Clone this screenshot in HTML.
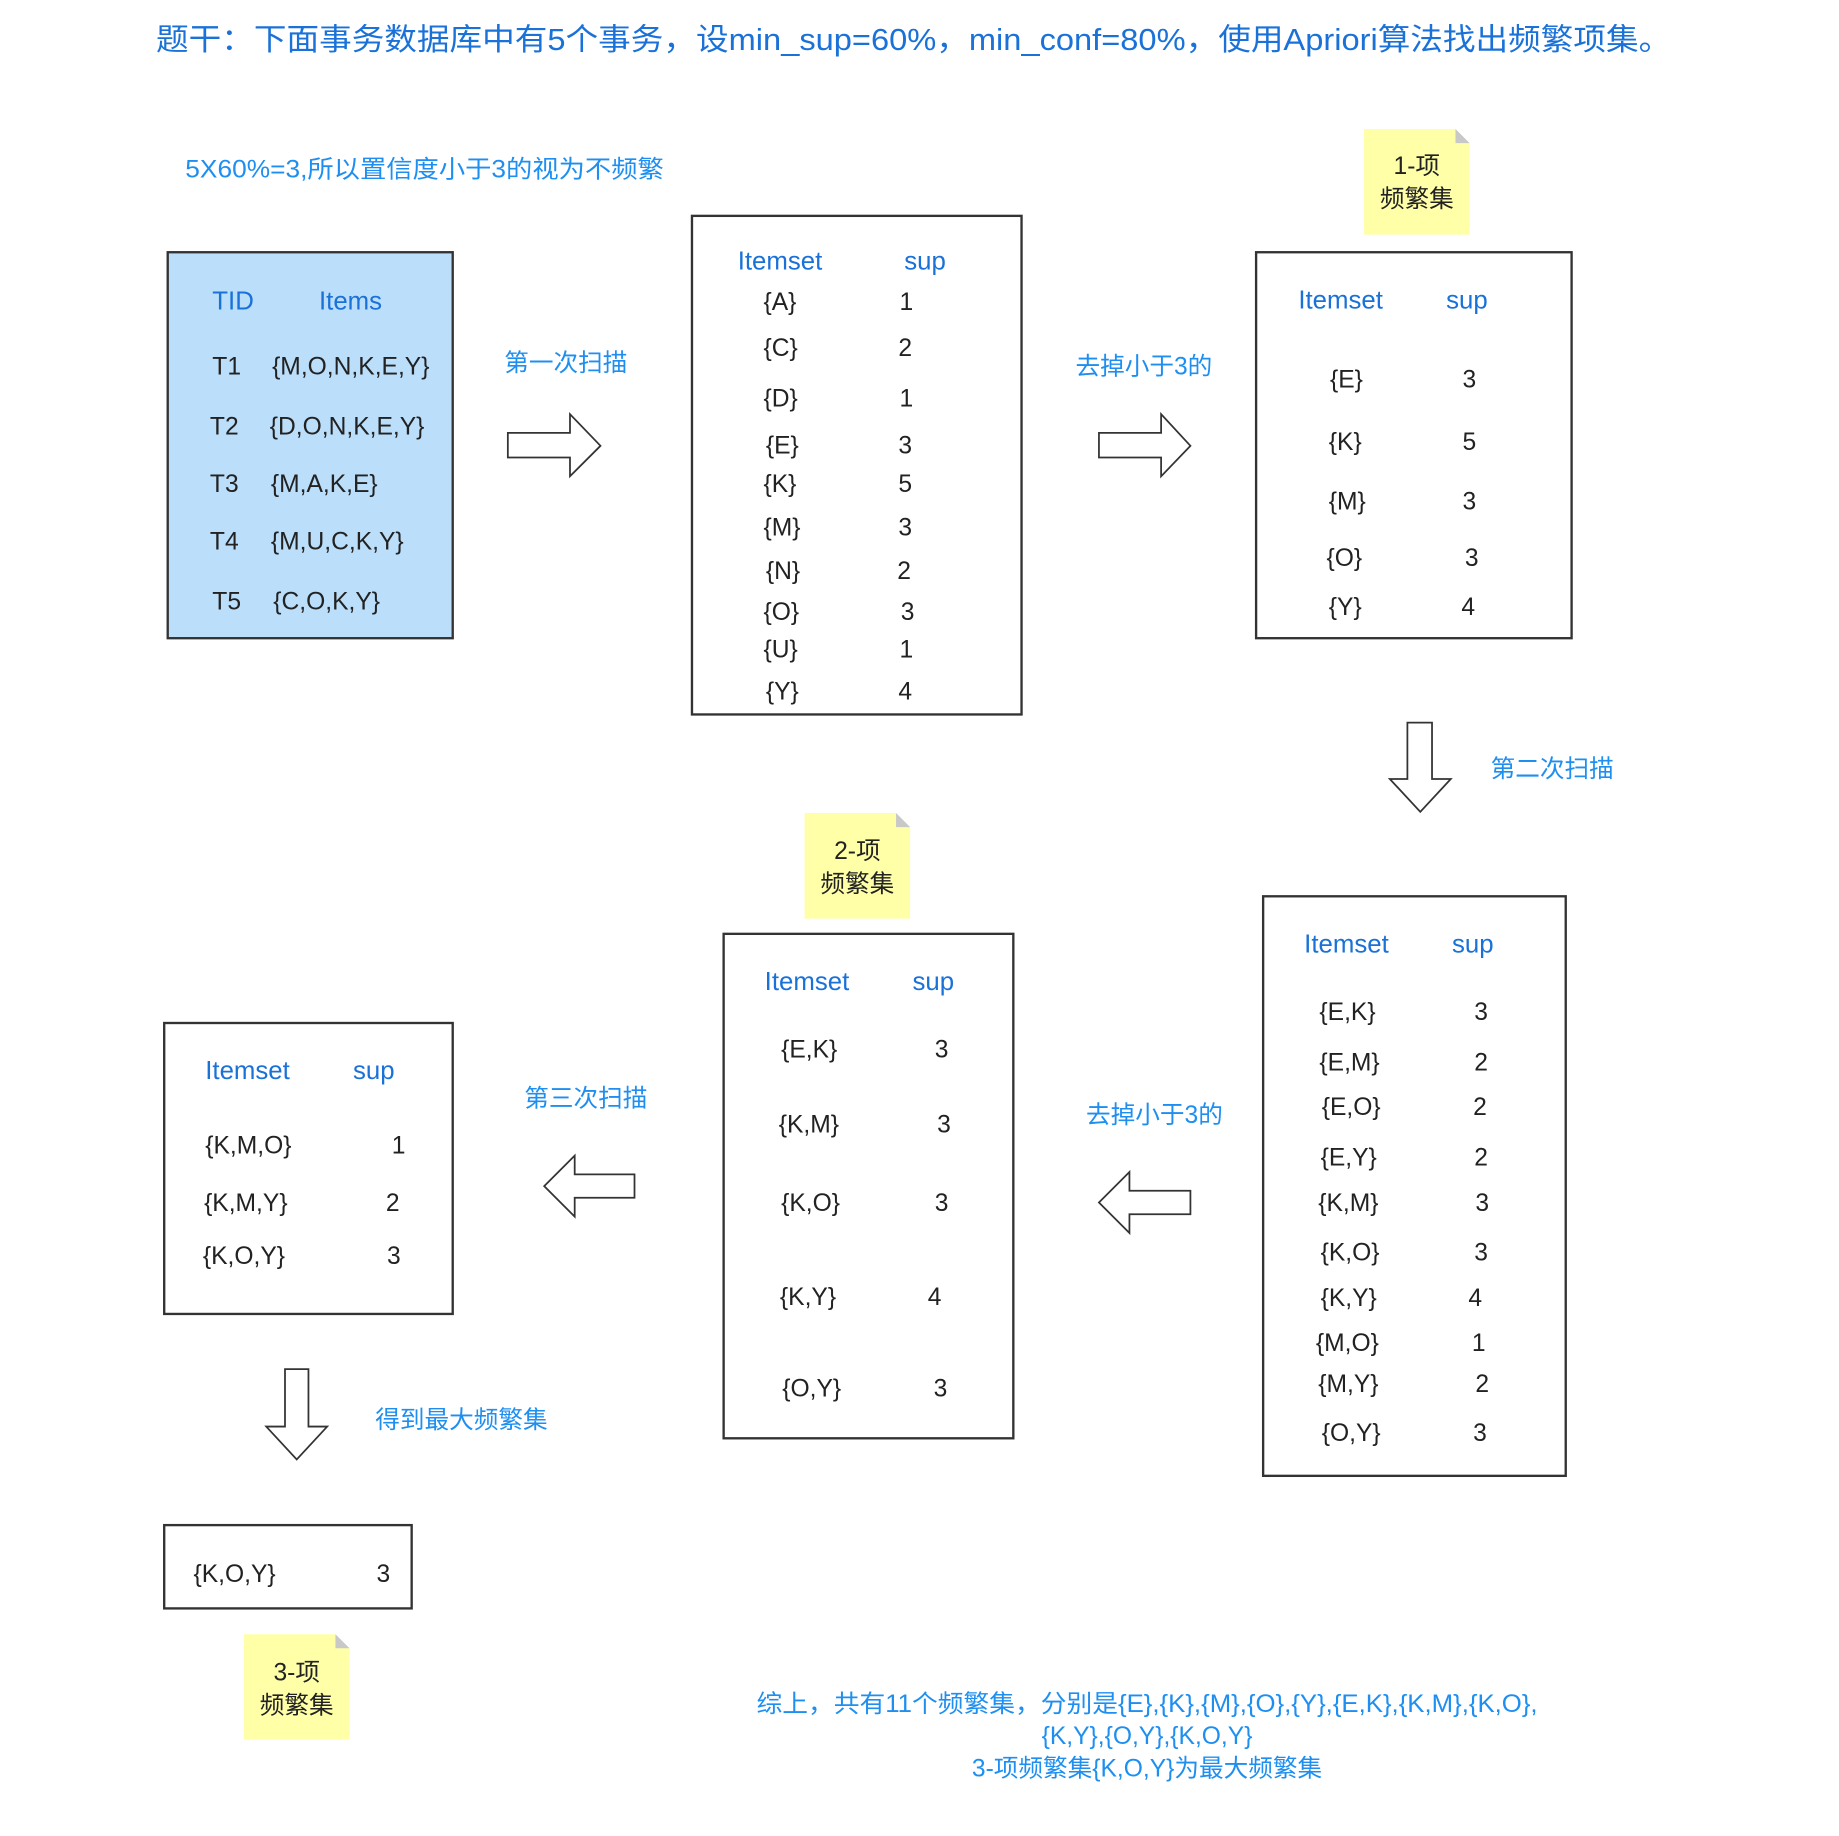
<!DOCTYPE html>
<html><head><meta charset="utf-8"><style>
html,body{margin:0;padding:0;background:#fff;}
svg{display:block;}
text{font-family:"Liberation Sans","Noto Sans CJK SC",sans-serif;dominant-baseline:central;}
.h{fill:#1a72d8;font-size:22px;}
.l{fill:#1e8ff0;font-size:21px;}
.t{fill:#222;font-size:21px;}
.b{fill:none;stroke:#333;stroke-width:2;}
.ar{fill:#fff;stroke:#333;stroke-width:1.5;}
.n{fill:#222;font-size:21px;text-anchor:middle;}
</style></head><body>
<svg width="1839" height="1836" viewBox="0 0 1568 1565" preserveAspectRatio="none" xmlns="http://www.w3.org/2000/svg">
<text x="133" y="34" style="fill:#1a72d8;font-size:26px" textLength="1292" lengthAdjust="spacingAndGlyphs">题干：下面事务数据库中有5个事务，设min_sup=60%，min_conf=80%，使用Apriori算法找出频繁项集。</text>
<text x="158" y="145" class="l" textLength="408" lengthAdjust="spacingAndGlyphs">5X60%=3,所以置信度小于3的视为不频繁</text>

<rect x="143" y="215" width="243" height="329" fill="#bbdefa" stroke="#333" stroke-width="2"/>
<text x="181" y="257" class="h">TID</text><text x="272" y="257" class="h">Items</text>
<text x="181" y="313" class="t">T1</text><text x="232" y="313" class="t">{M,O,N,K,E,Y}</text>
<text x="179" y="364" class="t">T2</text><text x="230" y="364" class="t">{D,O,N,K,E,Y}</text>
<text x="179" y="413" class="t">T3</text><text x="231" y="413" class="t">{M,A,K,E}</text>
<text x="179" y="462" class="t">T4</text><text x="231" y="462" class="t">{M,U,C,K,Y}</text>
<text x="181" y="513" class="t">T5</text><text x="233" y="513" class="t">{C,O,K,Y}</text>

<text x="430" y="310" class="l">第一次扫描</text>
<polygon class="ar" points="433,369 486,369 486,353 512,380 486,406 486,390 433,390"/>

<rect x="590" y="184" width="281" height="425" class="b"/>
<text x="629" y="223" class="h">Itemset</text><text x="771" y="223" class="h">sup</text>
<g class="t">
<text x="651" y="258">{A}</text><text x="767" y="258">1</text>
<text x="651" y="297">{C}</text><text x="766" y="297">2</text>
<text x="651" y="340">{D}</text><text x="767" y="340">1</text>
<text x="653" y="380">{E}</text><text x="766" y="380">3</text>
<text x="651" y="413">{K}</text><text x="766" y="413">5</text>
<text x="651" y="450">{M}</text><text x="766" y="450">3</text>
<text x="653" y="487">{N}</text><text x="765" y="487">2</text>
<text x="651" y="522">{O}</text><text x="768" y="522">3</text>
<text x="651" y="554">{U}</text><text x="767" y="554">1</text>
<text x="653" y="590">{Y}</text><text x="766" y="590">4</text>
</g>

<text x="917" y="313" class="l">去掉小于3的</text>
<polygon class="ar" points="937,369 990,369 990,353 1015,380 990,406 990,390 937,390"/>

<polygon points="1163,110 1241,110 1253,122 1253,200 1163,200" fill="#ffffa8"/>
<polygon points="1241,110 1253,122 1241,122" fill="#c8c8c8"/>
<text x="1208" y="142" class="n">1-项</text><text x="1208" y="170" class="n">频繁集</text>

<rect x="1071" y="215" width="269" height="329" class="b"/>
<text x="1107" y="256" class="h">Itemset</text><text x="1233" y="256" class="h">sup</text>
<g class="t">
<text x="1134" y="324">{E}</text><text x="1247" y="324">3</text>
<text x="1133" y="377">{K}</text><text x="1247" y="377">5</text>
<text x="1133" y="428">{M}</text><text x="1247" y="428">3</text>
<text x="1131" y="476">{O}</text><text x="1249" y="476">3</text>
<text x="1133" y="518">{Y}</text><text x="1246" y="518">4</text>
</g>

<polygon class="ar" points="1200,616 1221,616 1221,664 1237,664 1211,692 1185,664 1200,664"/>
<text x="1271" y="656" class="l">第二次扫描</text>

<polygon points="686,693 764,693 776,705 776,783 686,783" fill="#ffffa8"/>
<polygon points="764,693 776,705 764,705" fill="#c8c8c8"/>
<text x="731" y="726" class="n">2-项</text><text x="731" y="754" class="n">频繁集</text>

<rect x="1077" y="764" width="258" height="494" class="b"/>
<text x="1112" y="805" class="h">Itemset</text><text x="1238" y="805" class="h">sup</text>
<g class="t">
<text x="1125" y="863">{E,K}</text><text x="1257" y="863">3</text>
<text x="1125" y="906">{E,M}</text><text x="1257" y="906">2</text>
<text x="1127" y="944">{E,O}</text><text x="1256" y="944">2</text>
<text x="1126" y="987">{E,Y}</text><text x="1257" y="987">2</text>
<text x="1124" y="1026">{K,M}</text><text x="1258" y="1026">3</text>
<text x="1126" y="1068">{K,O}</text><text x="1257" y="1068">3</text>
<text x="1126" y="1107">{K,Y}</text><text x="1252" y="1107">4</text>
<text x="1122" y="1145">{M,O}</text><text x="1255" y="1145">1</text>
<text x="1124" y="1180">{M,Y}</text><text x="1258" y="1180">2</text>
<text x="1127" y="1222">{O,Y}</text><text x="1256" y="1222">3</text>
</g>

<text x="926" y="951" class="l">去掉小于3的</text>
<polygon class="ar" points="1015,1015 963,1015 963,999 937,1025 963,1051 963,1035 1015,1035"/>

<rect x="617" y="796" width="247" height="430" class="b"/>
<text x="652" y="837" class="h">Itemset</text><text x="778" y="837" class="h">sup</text>
<g class="t">
<text x="666" y="895">{E,K}</text><text x="797" y="895">3</text>
<text x="664" y="959">{K,M}</text><text x="799" y="959">3</text>
<text x="666" y="1026">{K,O}</text><text x="797" y="1026">3</text>
<text x="665" y="1106">{K,Y}</text><text x="791" y="1106">4</text>
<text x="667" y="1184">{O,Y}</text><text x="796" y="1184">3</text>
</g>

<text x="447" y="937" class="l">第三次扫描</text>
<polygon class="ar" points="541,1001 490,1001 490,985 464,1011 490,1037 490,1021 541,1021"/>

<rect x="140" y="872" width="246" height="248" class="b"/>
<text x="175" y="913" class="h">Itemset</text><text x="301" y="913" class="h">sup</text>
<g class="t">
<text x="175" y="977">{K,M,O}</text><text x="334" y="977">1</text>
<text x="174" y="1026">{K,M,Y}</text><text x="329" y="1026">2</text>
<text x="173" y="1071">{K,O,Y}</text><text x="330" y="1071">3</text>
</g>

<polygon class="ar" points="243,1167 263,1167 263,1216 279,1216 253,1244 227,1216 243,1216"/>
<text x="320" y="1211" class="l">得到最大频繁集</text>

<rect x="140" y="1300" width="211" height="71" class="b"/>
<text x="165" y="1342" class="t">{K,O,Y}</text><text x="321" y="1342" class="t">3</text>

<polygon points="208,1393 286,1393 298,1405 298,1483 208,1483" fill="#ffffa8"/>
<polygon points="286,1393 298,1405 286,1405" fill="#c8c8c8"/>
<text x="253" y="1426" class="n">3-项</text><text x="253" y="1454" class="n">频繁集</text>

<g class="l" style="text-anchor:middle">
<text x="978" y="1453" textLength="666" lengthAdjust="spacingAndGlyphs">综上，共有11个频繁集，分别是{E},{K},{M},{O},{Y},{E,K},{K,M},{K,O},</text>
<text x="978" y="1480">{K,Y},{O,Y},{K,O,Y}</text>
<text x="978" y="1508">3-项频繁集{K,O,Y}为最大频繁集</text>
</g>
</svg>
</body></html>
